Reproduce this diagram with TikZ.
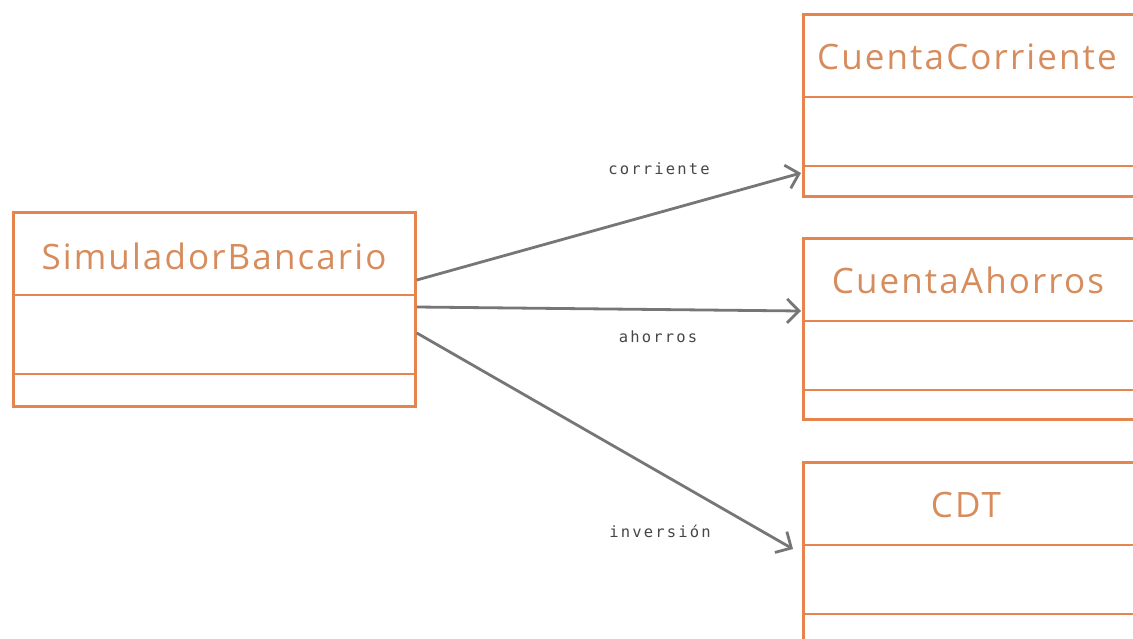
\documentclass[tikz,border=0pt]{standalone}
\usepackage{fontspec}
\setmainfont{Open Sans}
\newfontfamily\titfont[LetterSpace=6]{Open Sans}
\newfontfamily\labfont[LetterSpace=14]{DejaVu Sans Mono}
\usetikzlibrary{arrows.meta,calc}
\definecolor{boxline}{RGB}{230,132,78}
\definecolor{boxtext}{RGB}{214,140,92}
\definecolor{arrgray}{RGB}{118,118,118}
\definecolor{labgray}{RGB}{70,70,70}
\tikzset{
  classbox/.style={draw=boxline, line width=2.8pt, rectangle, inner sep=0pt, anchor=north west},
  divider/.style={draw=boxline, line width=2.8pt},
  title/.style={text=boxtext, font=\titfont\fontsize{35}{40}\selectfont, inner sep=0pt},
  arr/.style={draw=arrgray, line width=2.8pt, -{Straight Barb[length=12pt,width=24pt,line width=2.8pt]}},
  lab/.style={text=labgray, font=\labfont\fontsize{15.5}{17}\selectfont, inner sep=0pt}
}
\begin{document}
\begin{tikzpicture}[x=1pt,y=-1pt]
\useasboundingbox (0,0) rectangle (1133,638);
\clip (0,0) rectangle (1133,638);
% left box
\node[classbox, minimum width=402pt, minimum height=194pt] (sim) at (12,211) {};
\draw[divider] ($(sim.north west)+(0,84)$) -- ($(sim.north east)+(0,84)$);
\draw[divider] ($(sim.north west)+(0,163)$) -- ($(sim.north east)+(0,163)$);
\node[title] (simt) at (214,256) {SimuladorBancario};
% right boxes
\node[classbox, minimum width=340pt, minimum height=182pt] (cc) at (802,13) {};
\draw[divider] ($(cc.north west)+(0,84)$) -- ($(cc.north east)+(0,84)$);
\draw[divider] ($(cc.north west)+(0,153)$) -- ($(cc.north east)+(0,153)$);
\node[title] (cct) at (967,57) {CuentaCorriente};
\node[classbox, minimum width=340pt, minimum height=181pt] (ca) at (802,237) {};
\draw[divider] ($(ca.north west)+(0,84)$) -- ($(ca.north east)+(0,84)$);
\draw[divider] ($(ca.north west)+(0,153)$) -- ($(ca.north east)+(0,153)$);
\node[title] (cat) at (968,280) {CuentaAhorros};
\node[classbox, minimum width=340pt, minimum height=190pt] (cdt) at (802,461) {};
\draw[divider] ($(cdt.north west)+(0,84)$) -- ($(cdt.north east)+(0,84)$);
\draw[divider] ($(cdt.north west)+(0,153)$) -- ($(cdt.north east)+(0,153)$);
\node[title] (cdtt) at (966,505) {CDT};
% connectors
\draw[arr] ($(sim.north east)+(0,69)$) -- ($(cc.north west)+(-1,160)$);
\draw[arr] ($(sim.north east)+(0,96)$) -- ($(ca.north west)+(-1,74)$);
\draw[arr] ($(sim.north east)+(0,122)$) -- ($(cdt.north west)+(-9,88)$);
% labels
\node[lab] (l1) at (659,169) {corriente};
\node[lab] (l2) at (658,337) {ahorros};
\node[lab] (l3) at (660,531) {inversión};
\end{tikzpicture}
\end{document}
